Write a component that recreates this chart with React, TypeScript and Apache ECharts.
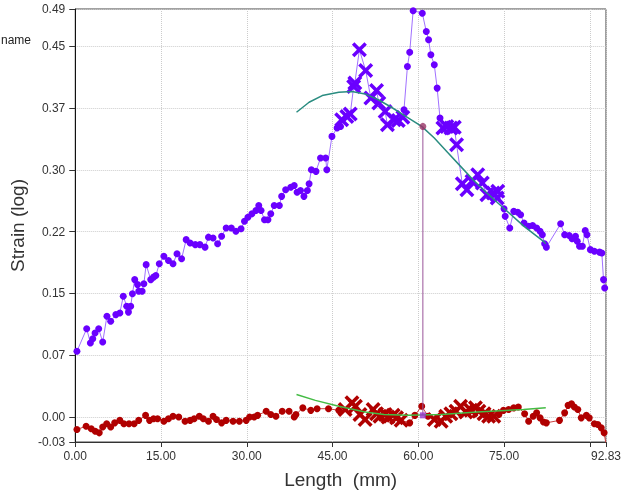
import React, { useEffect, useRef } from "react";
import * as echarts from "echarts";

const purpleLength = [0.3, 2.0, 2.65, 3.06, 3.46, 4.1, 4.8, 5.54, 6.2, 7.1, 7.8, 8.4, 9.0, 9.3, 9.7, 10.0, 10.4, 10.9, 11.1, 11.7, 12.0, 12.4, 13.2, 13.7, 14.1, 14.7, 15.5, 16.3, 17.1, 17.8, 18.6, 19.4, 20.1, 21.0, 21.8, 22.7, 23.3, 24.1, 24.9, 25.6, 26.4, 27.3, 28.1, 29.0, 29.6, 30.2, 30.9, 31.6, 32.1, 32.5, 33.1, 33.7, 34.2, 34.8, 35.7, 36.1, 36.8, 37.7, 38.3, 38.8, 39.4, 40.0, 40.6, 40.9, 41.3, 42.1, 42.9, 43.8, 44.0, 44.9, 45.8, 46.4, 46.6, 47.5, 48.1, 48.7, 48.9, 49.7, 50.8, 51.7, 52.7, 53.1, 54.2, 54.6, 55.8, 56.5, 57.3, 57.5, 58.1, 58.5, 59.1, 60.7, 61.4, 61.8, 62.2, 62.8, 63.3, 63.8, 64.3, 65.0, 65.7, 66.3, 66.7, 67.7, 68.5, 69.4, 70.4, 71.2, 72.0, 73.1, 73.8, 73.9, 75.0, 75.2, 76.0, 76.7, 77.4, 77.9, 78.5, 79.3, 80.0, 80.7, 81.3, 81.7, 82.1, 82.4, 84.9, 85.6, 86.4, 86.9, 87.5, 87.8, 88.2, 88.7, 89.2, 89.5, 90.1, 90.8, 91.7, 92.1, 92.4, 92.6];
const purpleStrain = [0.079, 0.106, 0.089, 0.094, 0.101, 0.106, 0.09, 0.121, 0.115, 0.123, 0.125, 0.145, 0.133, 0.126, 0.133, 0.148, 0.165, 0.159, 0.151, 0.151, 0.16, 0.183, 0.165, 0.168, 0.17, 0.184, 0.193, 0.188, 0.184, 0.196, 0.19, 0.213, 0.209, 0.207, 0.207, 0.204, 0.216, 0.215, 0.208, 0.217, 0.227, 0.227, 0.223, 0.226, 0.235, 0.24, 0.244, 0.248, 0.254, 0.248, 0.237, 0.237, 0.244, 0.254, 0.254, 0.265, 0.273, 0.276, 0.278, 0.27, 0.272, 0.265, 0.272, 0.28, 0.297, 0.295, 0.311, 0.311, 0.297, 0.337, 0.347, 0.349, 0.357, 0.361, 0.364, 0.397, 0.401, 0.441, 0.416, 0.383, 0.392, 0.377, 0.367, 0.351, 0.357, 0.356, 0.36, 0.369, 0.421, 0.438, 0.488, 0.485, 0.463, 0.453, 0.435, 0.423, 0.395, 0.359, 0.347, 0.349, 0.347, 0.348, 0.327, 0.28, 0.273, 0.283, 0.291, 0.281, 0.267, 0.269, 0.263, 0.271, 0.25, 0.241, 0.227, 0.247, 0.246, 0.243, 0.233, 0.229, 0.23, 0.227, 0.223, 0.219, 0.208, 0.204, 0.232, 0.219, 0.218, 0.214, 0.217, 0.211, 0.205, 0.205, 0.224, 0.219, 0.201, 0.199, 0.198, 0.197, 0.165, 0.155];
// x ranges whose points are drawn as crosses (outliers)
const purpleCrossFrom = [46.5, 64.2];
const purpleCrossTo = [57.4, 74.0];

const redLength = [0.3, 1.9, 2.8, 3.5, 4.2, 4.8, 5.5, 6.2, 6.9, 7.8, 8.5, 9.4, 10.3, 11.1, 12.3, 13.0, 13.7, 14.4, 15.5, 16.3, 17.1, 18.1, 19.2, 20.1, 20.8, 21.7, 22.4, 23.3, 24.1, 24.7, 25.6, 26.4, 27.6, 28.7, 29.9, 30.5, 31.3, 31.9, 33.4, 34.2, 35.1, 36.2, 37.4, 38.3, 38.6, 39.8, 41.2, 42.3, 44.3, 46.1, 47.2, 48.4, 49.0, 49.8, 50.7, 52.1, 52.7, 53.3, 54.2, 54.7, 55.6, 56.2, 57.0, 58.5, 59.4, 60.6, 61.7, 62.8, 64.0, 64.8, 65.7, 66.6, 67.4, 68.3, 69.2, 70.0, 70.6, 71.5, 72.3, 73.2, 74.1, 74.9, 75.8, 76.7, 77.5, 78.6, 79.3, 80.1, 80.7, 81.3, 81.9, 82.4, 84.7, 85.6, 86.2, 86.8, 87.3, 87.9, 88.5, 89.4, 89.9, 90.8, 91.4, 92.0, 92.5, 92.8];
const redStrain = [-0.015, -0.011, -0.014, -0.017, -0.019, -0.012, -0.008, -0.012, -0.007, -0.004, -0.008, -0.008, -0.008, -0.004, 0.002, -0.004, -0.002, -0.002, -0.005, -0.002, 0.001, 0.0, -0.005, -0.004, -0.002, 0.001, -0.002, -0.005, 0.001, -0.003, -0.007, -0.004, -0.005, -0.005, -0.004, 0.0, 0.0, 0.002, 0.007, 0.003, 0.001, 0.007, 0.007, 0.0, 0.003, 0.011, 0.008, 0.01, 0.01, 0.008, 0.009, 0.017, 0.013, 0.003, -0.003, 0.009, 0.004, 0.001, 0.003, 0.0, 0.002, -0.001, -0.004, -0.007, 0.002, 0.013, 0.001, -0.003, -0.005, 0.001, 0.004, 0.007, 0.013, 0.006, 0.008, 0.011, 0.007, 0.004, 0.001, 0.001, 0.003, 0.008, 0.009, 0.011, 0.012, 0.004, -0.005, 0.001, 0.005, -0.001, -0.006, -0.007, -0.004, 0.005, 0.014, 0.016, 0.012, 0.009, -0.001, 0.002, -0.001, -0.008, -0.009, -0.013, -0.019, -0.031];
const redCrossFrom = [47.0, 62.5];
const redCrossTo = [57.2, 73.5];

const fitTopLength = [38.7, 40.9, 43.2, 46.1, 48.4, 50.7, 53.0, 55.3, 57.6, 60.6, 62.8, 65.1, 67.4, 69.7, 72.0, 74.9, 78.5, 81.9, 82.3];
const fitTopStrain = [0.366, 0.378, 0.386, 0.39, 0.391, 0.388, 0.381, 0.372, 0.362, 0.349, 0.335, 0.318, 0.301, 0.284, 0.269, 0.251, 0.229, 0.211, 0.208];

const fitBottomLength = [38.7, 42.0, 46.1, 50.7, 54.0, 58.2, 64.0, 70.3, 78.4, 82.3];
const fitBottomStrain = [0.027, 0.02, 0.013, 0.006, 0.003, 0.002, 0.003, 0.006, 0.009, 0.011];

const cursorLength = 60.8;
const cursorTop = 0.349;
const cursorBottom = 0.002;

const yTickValues = [-0.03, 0, 0.0742, 0.1484, 0.2226, 0.2968, 0.371, 0.4452, 0.49];
const xLabelValues = [0, 15, 30, 45, 60, 75, 92.83];
const xTickValues = [0, 15, 30, 45, 60, 75, 90, 92.83];

const CROSS = "path://M2,0 L6,4 L10,0 L12,2 L8,6 L12,10 L10,12 L6,8 L2,12 L0,10 L4,6 L0,2 Z";
const FONT = "'Liberation Sans', Arial, sans-serif";

function buildPoints(xs: number[], ys: number[], from: number[], to: number[]) {
  return xs.map((x, i) => {
    const isCross = from.some((f, k) => x >= f && x <= to[k]);
    return isCross
      ? { value: [x, ys[i]], symbol: CROSS, symbolSize: 15 }
      : { value: [x, ys[i]] };
  });
}

export default function App() {
  const ref = useRef<HTMLDivElement>(null);
  useEffect(() => {
    if (!ref.current) return;
    const chart = echarts.init(ref.current, undefined, { renderer: "svg" });
    chart.setOption({
      animation: false,
      grid: { left: 74, right: 14, top: 9, bottom: 55, show: true, borderColor: "#444", borderWidth: 1 },
      graphic: [
        {
          type: "text",
          x: 1,
          y: 40,
          style: { text: "name", fontSize: 12, fill: "#222", fontFamily: FONT, textAlign: "left", textVerticalAlign: "middle" },
        },
      ],
      xAxis: {
        type: "value",
        min: 0,
        max: 92.83,
        name: "Length  (mm)",
        nameLocation: "middle",
        nameGap: 28,
        nameTextStyle: { fontSize: 19, color: "#333", fontFamily: FONT },
        axisLine: { onZero: false, lineStyle: { color: "#333" } },
        axisTick: { customValues: xTickValues, length: 5, lineStyle: { color: "#333" } },
        axisLabel: {
          customValues: xLabelValues,
          formatter: (v: number) => v.toFixed(2),
          fontSize: 12,
          color: "#333",
          fontFamily: FONT,
          margin: 8,
        },
        splitLine: { show: true, lineStyle: { color: "#ccc", type: "dotted" } },
      },
      yAxis: {
        type: "value",
        min: -0.03,
        max: 0.49,
        name: "Strain (log)",
        nameLocation: "middle",
        nameGap: 46,
        nameTextStyle: { fontSize: 19, color: "#333", fontFamily: FONT },
        axisLine: { show: true, onZero: false, lineStyle: { color: "#111" } },
        axisTick: { show: true, customValues: yTickValues, length: 6, lineStyle: { color: "#333" } },
        axisLabel: {
          customValues: yTickValues,
          formatter: (v: number) => v.toFixed(2),
          fontSize: 12,
          color: "#333",
          fontFamily: FONT,
          margin: 10,
        },
        splitLine: { show: true, lineStyle: { color: "#ccc", type: "dotted" } },
      },
      series: [
        {
          type: "line",
          data: buildPoints(purpleLength, purpleStrain, purpleCrossFrom, purpleCrossTo),
          symbol: "circle",
          symbolSize: 7,
          lineStyle: { color: "#a070ff", width: 1 },
          itemStyle: { color: "#6a00ff" },
          z: 3,
        },
        {
          type: "line",
          data: buildPoints(redLength, redStrain, redCrossFrom, redCrossTo),
          symbol: "circle",
          symbolSize: 7,
          lineStyle: { color: "#cc4040", width: 1 },
          itemStyle: { color: "#b00000" },
          z: 3,
        },
        {
          type: "line",
          data: fitTopLength.map((x, i) => [x, fitTopStrain[i]]),
          symbol: "none",
          lineStyle: { color: "#2a8c80", width: 1.5 },
          z: 4,
        },
        {
          type: "line",
          data: fitBottomLength.map((x, i) => [x, fitBottomStrain[i]]),
          symbol: "none",
          lineStyle: { color: "#44bb44", width: 1.5 },
          z: 4,
        },
        {
          type: "line",
          data: [[cursorLength, cursorTop], [cursorLength, cursorBottom]],
          symbol: "none",
          lineStyle: { color: "#995599", width: 1 },
          z: 5,
        },
        {
          type: "scatter",
          data: [[cursorLength, cursorTop]],
          symbol: "circle",
          symbolSize: 7,
          itemStyle: { color: "#993366" },
          z: 6,
        },
        {
          type: "scatter",
          data: [[cursorLength, cursorBottom]],
          symbol: "rect",
          symbolSize: 6,
          itemStyle: { color: "#9933cc" },
          z: 6,
        },
      ],
    });
    return () => chart.dispose();
  }, []);
  return <div ref={ref} style={{ position: "fixed", left: 0, top: 0, width: 624, height: 497 }} />;
}
